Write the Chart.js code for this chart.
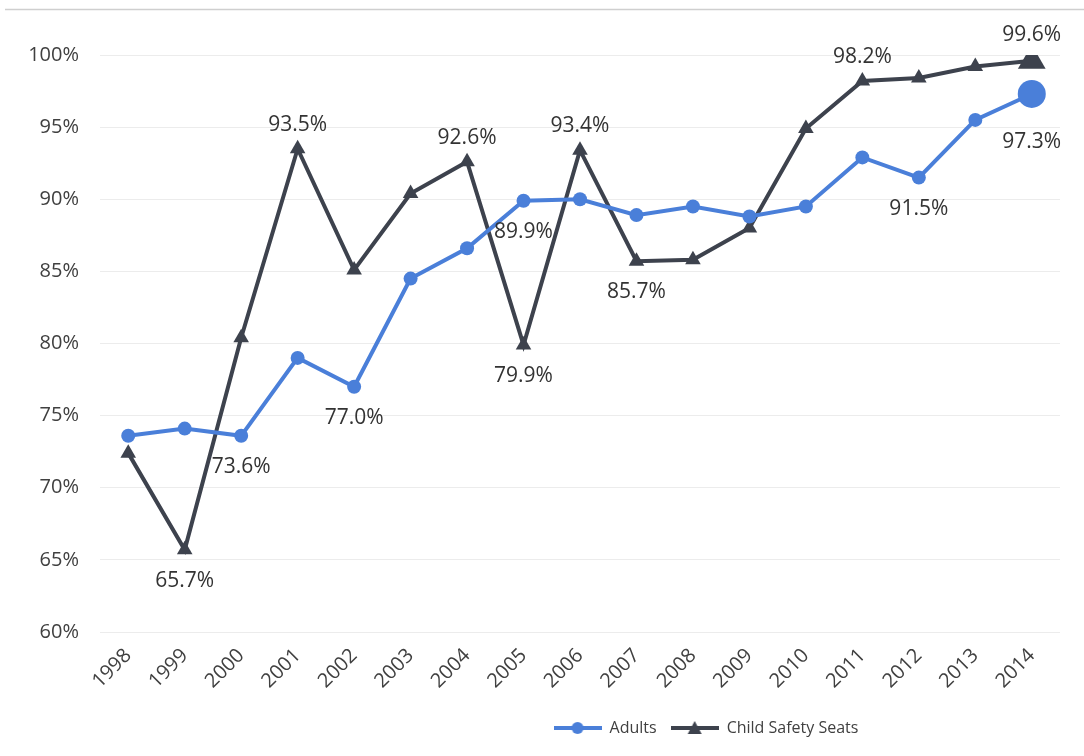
<!DOCTYPE html>
<html>
<head>
<meta charset="utf-8">
<script src="https://cdn.jsdelivr.net/npm/chart.js@4.4.1/dist/chart.umd.min.js"></script>
<style>
html,body{margin:0;padding:0;background:#fff;}
#wrap{width:1084px;height:756px;position:relative;}
</style>
</head>
<body>
<div id="wrap"><canvas id="c" width="1084" height="756"></canvas></div>
<script>
const years = ['1998','1999','2000','2001','2002','2003','2004','2005','2006','2007','2008','2009','2010','2011','2012','2013','2014'];
const adults = [73.6,74.1,73.6,79.0,77.0,84.5,86.6,89.9,90.0,88.9,89.5,88.8,89.5,92.9,91.5,95.5,97.3];
const childSeats = [72.4,65.7,80.4,93.5,85.1,90.4,92.6,79.9,93.4,85.7,85.8,88.0,94.9,98.2,98.4,99.2,99.6];
const adultsLabels = [null,null,'73.6%',null,'77.0%',null,null,'89.9%',null,null,null,null,null,null,'91.5%',null,'97.3%'];
const childLabels = [null,'65.7%',null,'93.5%',null,null,'92.6%','79.9%','93.4%','85.7%',null,null,null,'98.2%',null,null,'99.6%'];
const childLabelPos = [null,'below',null,'above',null,null,'above','below','above','below',null,null,null,'above',null,null,'above'];
const yTicks = [60,65,70,75,80,85,90,95,100];

const BLUE = '#4a7fd9';
const DARK = '#3d424d';
const FONT = "'Open Sans', 'Noto Sans', sans-serif";

function legendIcon(color, style){
  const c = document.createElement('canvas');
  c.width = 48; c.height = 16;
  const g = c.getContext('2d');
  g.strokeStyle = color; g.lineWidth = 4;
  g.beginPath(); g.moveTo(0,8); g.lineTo(48,8); g.stroke();
  g.fillStyle = color;
  if(style==='circle'){ g.beginPath(); g.arc(24,8,6,0,Math.PI*2); g.fill(); }
  else { g.beginPath(); g.moveTo(24,1); g.lineTo(31,14); g.lineTo(17,14); g.closePath(); g.fill(); }
  return c;
}

const labelPlugin = {
  id:'valLabels',
  afterLayout(chart){
    const lg = chart.legend;
    if(lg){ lg.left += 176; lg.right += 176; }
  },
  afterDatasetsDraw(chart){
    const ctx = chart.ctx;
    ctx.save();
    ctx.font = "21px " + FONT;
    ctx.fillStyle = '#333';
    ctx.textAlign = 'center';
    ctx.textBaseline = 'middle';
    const sets = [[0, adultsLabels, adultsLabels.map(v=>v?'below':null)], [1, childLabels, childLabelPos]];
    sets.forEach(([di, labels, pos])=>{
      const meta = chart.getDatasetMeta(di);
      labels.forEach((t,i)=>{
        if(!t) return;
        const el = meta.data[i];
        const big = i === labels.length-1;
        const off = pos[i]==='above' ? -(big?26:24) : (big?48:31);
        ctx.fillText(t, el.x, el.y + off);
      });
    });
    ctx.restore();
  },
  beforeDraw(chart){
    const ctx = chart.ctx;
    ctx.save();
    ctx.strokeStyle = '#cfcfcf'; ctx.lineWidth = 1.5;
    ctx.beginPath(); ctx.moveTo(5,9.5); ctx.lineTo(1084,9.5); ctx.stroke();
    ctx.restore();
  }
};

const lastBig = (n, small, big) => years.map((_,i)=> i===years.length-1 ? big : small);

new Chart(document.getElementById('c'), {
  type:'line',
  data:{
    labels: years,
    datasets:[
      {label:'Adults', data: adults, borderColor: BLUE, backgroundColor: BLUE, borderWidth:4,
       pointStyle:'circle', pointRadius: lastBig(0,7,14), pointBorderWidth:0, tension:0,
       pointBackgroundColor: BLUE},
      {label:'Child Safety Seats', data: childSeats, borderColor: DARK, backgroundColor: DARK, borderWidth:4,
       pointStyle:'triangle', pointRadius: lastBig(0,9,16), pointBorderWidth:0, tension:0,
       pointBackgroundColor: DARK}
    ]
  },
  options:{
    responsive:false, animation:false,
    layout:{padding:{top:55, right:24, bottom:10, left:0}},
    plugins:{
      legend:{position:'bottom',
        labels:{font:{size:16, family:FONT}, color:'#404040', usePointStyle:true, pointStyleWidth:48, padding:14,
          generateLabels(chart){
            return chart.data.datasets.map((d,i)=>({
              text:d.label, pointStyle: legendIcon(d.borderColor, i===0?'circle':'triangle'),
              fillStyle:d.borderColor, strokeStyle:d.borderColor, lineWidth:0, datasetIndex:i, hidden:false, fontColor:'#404040'
            }));
          }}},
      tooltip:{enabled:false}
    },
    scales:{
      x:{offset:true, grid:{display:false}, border:{display:false}, afterFit(s){ s.height = 74; },
         ticks:{font:{size:20, family:FONT}, color:'#404040', maxRotation:45, minRotation:45, padding:4}},
      y:{min:60, max:100, afterFit(s){ s.width = 100; },
         afterBuildTicks(s){ s.ticks = yTicks.map(v=>({value:v})); },
         grid:{color:'#ececec', lineWidth:1, drawTicks:false}, border:{display:false},
         ticks:{font:{size:20, family:FONT}, color:'#404040', padding:21, callback:v=>v+'%'}}
    }
  },
  plugins:[labelPlugin]
});
</script>
</body>
</html>
